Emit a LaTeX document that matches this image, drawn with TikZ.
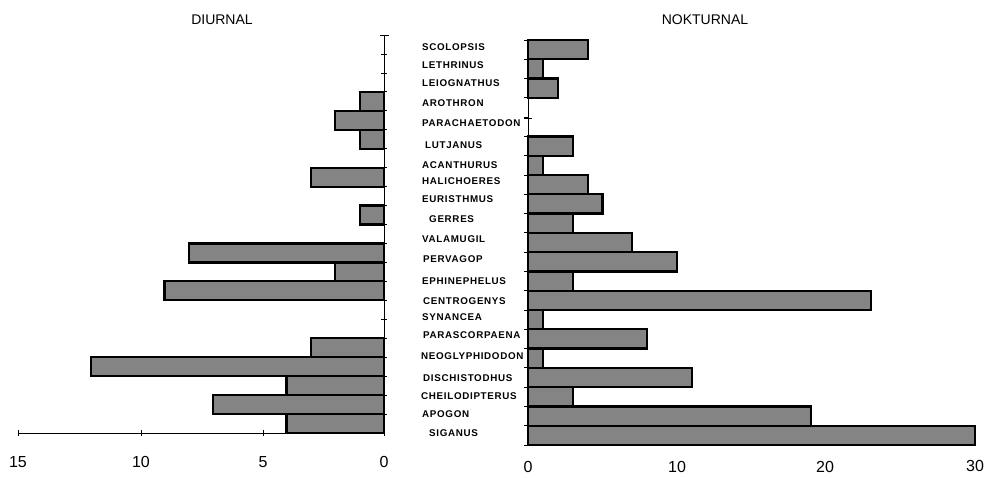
\documentclass[tikz,border=0pt]{standalone}
\usepackage{fontspec}
\setmainfont{Liberation Sans}
\newfontfamily\lblfont[LetterSpace=7]{Liberation Sans}
\definecolor{barfill}{RGB}{132,132,132}
\tikzset{
  bar/.style={draw=black,line width=2.2pt,fill=barfill},
  axisline/.style={line width=0.9pt},
  tickline/.style={line width=0.8pt},
  cat/.style={anchor=west,inner sep=0pt,font=\lblfont\fontsize{9.8}{10}\selectfont\bfseries},
  ticklbl/.style={inner sep=0pt,font=\fontsize{16}{16}\selectfont},
  ttl/.style={inner sep=0pt,font=\fontsize{14}{14}\selectfont}
}
\begin{document}
\begin{tikzpicture}[x=1pt,y=-1pt]
\useasboundingbox (0,0) rectangle (988,477);
% titles
\node[ttl] (tdiurnal) at (222,20) {DIURNAL};
\node[ttl] (tnokturnal) at (705,20) {NOKTURNAL};
% left bars (diurnal)
\foreach \v [count=\i from 0] in {0,0,0,1,2,1,0,3,0,1,0,8,2,9,0,0,3,12,4,7,4} {
  \ifnum\v>0 \draw[bar] ({384-24.4*\v},{35+18.952*\i}) rectangle (384,{35+18.952*(\i+1)}); \fi
}
% right bars (nokturnal)
\foreach \v [count=\i from 0] in {4,1,2,0,0,3,1,4,5,3,7,10,3,23,1,8,1,11,3,19,30} {
  \ifnum\v>0 \draw[bar] (528,{40+19.286*\i}) rectangle ({528+14.9*\v},{40+19.286*(\i+1)}); \fi
}
% left axes
\coordinate (ltop) at (384,35);
\coordinate (lbot) at (384,433);
\coordinate (lend) at (18,433);
\draw[axisline] (ltop) -- (lbot);
\draw[axisline] (380,35) -- (389,35);
\foreach \i in {1,...,20} \draw[tickline] (381,{35+18.952*\i}) -- (387,{35+18.952*\i});
\draw[axisline] (lend) -- (lbot);
\foreach \x in {18,141,263,384} \draw[tickline] (\x,430) -- (\x,436);
% right axis
\coordinate (rtop) at (528,40);
\coordinate (rbot) at (528,445);
\draw[axisline] (rtop) -- (rbot);
\foreach \i in {0,...,21} \draw[tickline] (524,{40+19.286*\i}) -- (528,{40+19.286*\i});
\draw[tickline] (524,118) -- (532,118);
% tick labels
\node[ticklbl] (l15) at (18,462) {15};
\node[ticklbl] (l10) at (141,462) {10};
\node[ticklbl] (l5) at (263,462) {5};
\node[ticklbl] (l0) at (384,462) {0};
\node[ticklbl] (r0) at (528,467) {0};
\node[ticklbl] (r10) at (677,467) {10};
\node[ticklbl] (r20) at (825,467) {20};
\node[ticklbl] (r30) at (975,466) {30};
% category labels
\foreach \t/\x/\y [count=\k] in {
  SCOLOPSIS/422/47, LETHRINUS/422/65, LEIOGNATHUS/422/83, AROTHRON/422/103,
  PARACHAETODON/422/123, LUTJANUS/425/145, ACANTHURUS/422/165, HALICHOERES/422/181,
  EURISTHMUS/422/199, GERRES/429/219, VALAMUGIL/422/239, PERVAGOP/423/259,
  EPHINEPHELUS/422/281, CENTROGENYS/423/301, SYNANCEA/422/317, PARASCORPAENA/423/335,
  NEOGLYPHIDODON/421/356, DISCHISTODHUS/423/378, CHEILODIPTERUS/421/396,
  APOGON/422/414, SIGANUS/429/433} {
  \node[cat] (cat\k) at (\x,\y) {\t};
}
\end{tikzpicture}
\end{document}
